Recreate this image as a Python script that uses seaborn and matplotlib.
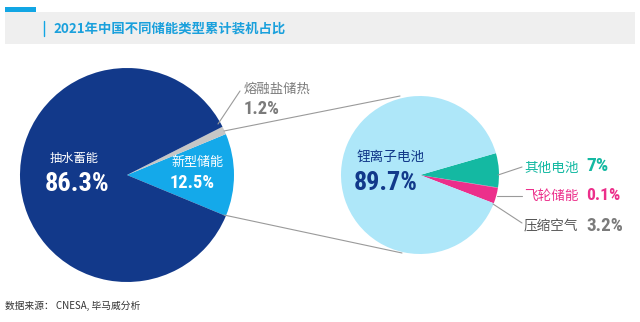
import matplotlib
matplotlib.use("Agg")
import matplotlib.pyplot as plt
from matplotlib.patches import Rectangle
from matplotlib import font_manager
import seaborn as sns

sns.set_theme(style="white")
plt.rcParams['font.family'] = ['Noto Sans CJK SC', 'DejaVu Sans']

# ---- data ----
title = "2021年中国不同储能类型累计装机占比"
source = "数据来源： CNESA, 毕马威分析"
left_labels = ["新型储能", "熔融盐储热", "抽水蓄能"]
left_values = [12.5, 1.2, 86.3]
right_labels = ["压缩空气", "飞轮储能", "其他电池", "锂离子电池"]
right_values = [3.2, 0.1, 7.0, 89.7]

NAVY = "#12398a"
BLUE = "#14a9ea"
SALT = "#c6c6c6"
LIGHT = "#aee7f9"
TEAL = "#14b9a2"
PINK = "#ec2f8b"
GREY = "#7b7b7b"
left_colors = [BLUE, SALT, NAVY]
right_colors = [PINK, PINK, TEAL, LIGHT]

# pick a condensed face for the big numbers if one is installed
fonts = font_manager.fontManager.ttflist
names = {f.name for f in fonts}
num_family = ['Noto Sans CJK SC', 'DejaVu Sans']
for cand in ['Liberation Sans Narrow', 'Roboto Condensed', 'Open Sans Condensed']:
    if cand in names:
        num_family = [cand, 'DejaVu Sans']
        break

W, H = 640, 322
fig = plt.figure(figsize=(W / 100, H / 100), dpi=100)
ax = fig.add_axes([0, 0, 1, 1])

def Y(y):
    return H - y

# title bar
ax.add_patch(Rectangle((5, Y(44)), 630, 32, color="#efefef", lw=0))
ax.add_patch(Rectangle((5, Y(12)), 31, 5, color="#12a6e4", lw=0))
ax.plot([44, 44], [Y(21), Y(36)], color="#12a6e4", lw=1)
ax.text(53, Y(28.5), title, fontsize=9.6, fontweight="bold", color="#1aa0dc",
        va="center", ha="left")

# left pie
ax.pie(left_values, colors=left_colors, startangle=-22.5, counterclock=True,
       radius=107, center=(127, Y(175)), frame=True,
       wedgeprops=dict(linewidth=0))
# right pie
ax.pie(right_values, colors=right_colors, startangle=-21, counterclock=True,
       radius=79, center=(420, Y(175)), frame=True,
       wedgeprops=dict(linewidth=0))
ax.set_xlim(0, W)
ax.set_ylim(0, H)
ax.set_aspect("equal")
ax.axis("off")

LINE = "#9a9a9a"
# connector lines between pies
ax.plot([224, 400], [Y(131), Y(96)], color=LINE, lw=0.8)
ax.plot([224, 402], [Y(215), Y(253)], color=LINE, lw=0.8)

numbers = []
def num(x, y, s, size, color, target_w):
    t = ax.text(x, y, s, fontsize=size, fontweight="bold", color=color,
                va="center", family=num_family)
    numbers.append((t, size, target_w))
    return t

# left labels
ax.text(50, Y(158), left_labels[2], fontsize=8.8, color="white", va="center")
num(45, Y(184), f"{left_values[2]}%", 19, "white", 66)
ax.text(171, Y(162), left_labels[0], fontsize=9.4, color="white", va="center")
num(170, Y(183), f"{left_values[0]}%", 14, "white", 45)
# molten salt
ax.plot([218, 240], [Y(124), Y(91)], color=LINE, lw=0.8)
ax.text(244, Y(89), left_labels[1], fontsize=9.6, color=GREY, va="center")
num(244, Y(109), f"{left_values[1]}%", 13.5, GREY, 36)

# right labels
ax.text(357, Y(157), right_labels[3], fontsize=9.8, color=NAVY, va="center")
num(354, Y(183), f"{right_values[3]}%", 19, NAVY, 64)

ax.plot([498, 522], [Y(175), Y(167)], color=LINE, lw=0.8)
ax.text(524, Y(168), right_labels[2], fontsize=9.8, color=TEAL, va="center")
num(586, Y(166), f"{right_values[2]:g}%", 14, TEAL, 23)

ax.plot([497, 522], [Y(196), Y(196)], color=LINE, lw=0.8)
ax.text(524, Y(196), right_labels[1], fontsize=9.8, color=PINK, va="center")
num(586, Y(196), f"{right_values[1]:g}%", 14, PINK, 34)

ax.plot([493, 522], [Y(204), Y(223)], color=LINE, lw=0.8)
ax.text(524, Y(226), right_labels[0], fontsize=9.8, color="#555555", va="center")
num(586, Y(226), f"{right_values[0]:g}%", 14, GREY, 37)

# source
ax.text(5, Y(306), source, fontsize=7, color="#333333", va="center")

# fit the big numbers to the widths seen in the reference
fig.canvas.draw()
r = fig.canvas.get_renderer()
for t, size, tw in numbers:
    w = t.get_window_extent(r).width
    t.set_fontsize(min(size, size * tw / w))

fig.savefig("out.png", dpi=100)
